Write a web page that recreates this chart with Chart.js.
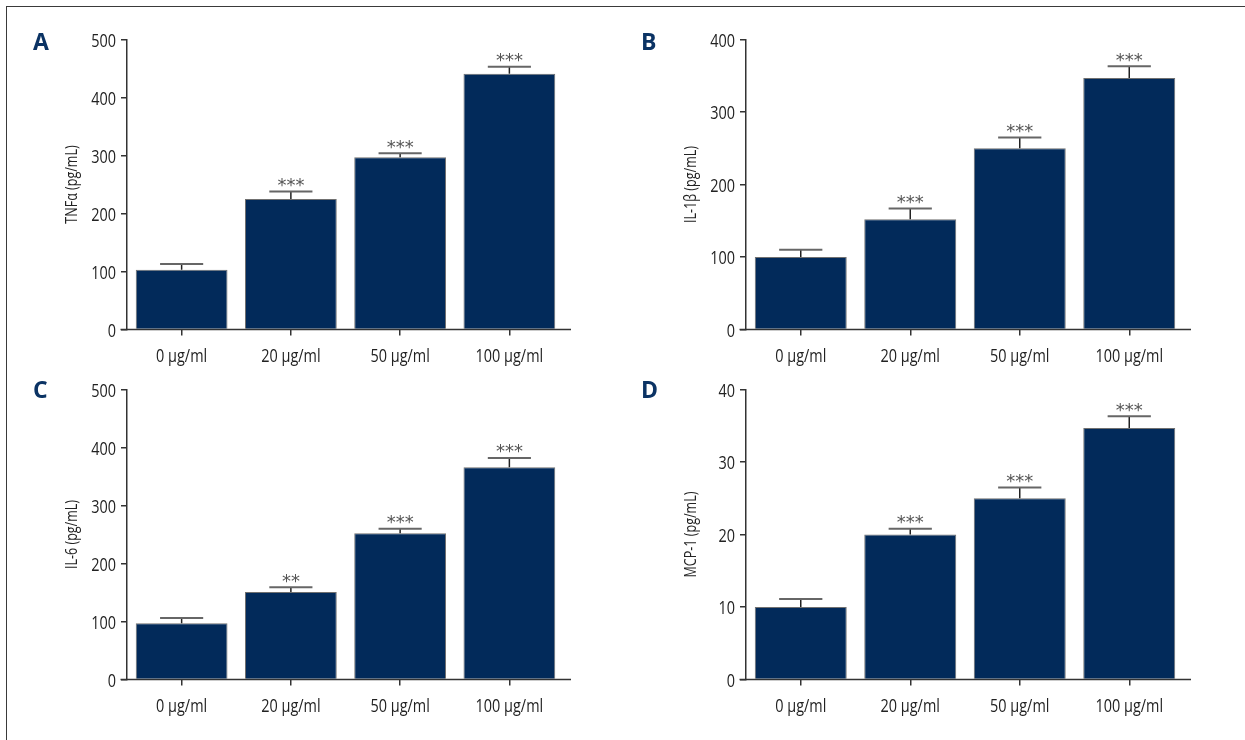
<!DOCTYPE html>
<html>
<head>
<meta charset="utf-8">
<script src="https://cdn.jsdelivr.net/npm/chart.js@4.4.0/dist/chart.umd.min.js"></script>
<style>
  html, body { margin: 0; padding: 0; background: #fff; }
  body { width: 1245px; height: 740px; position: relative; overflow: hidden; }
  .frame { position: absolute; left: 6px; top: 6px; width: 1400px; height: 900px;
           border-top: 1px solid #3a3a3a; border-left: 1px solid #3a3a3a; box-sizing: border-box; }
  .panel { position: absolute; width: 623px; height: 370px; }
  .tag { position: absolute; font: bold 23px "Open Sans", "Liberation Sans", sans-serif;
         color: #0b3364; line-height: 1; }
</style>
</head>
<body>
<div class="frame"></div>
<div class="panel" style="left:0;top:0"><canvas id="cA" width="623" height="370"></canvas></div>
<div class="panel" style="left:622px;top:0"><canvas id="cB" width="623" height="370"></canvas></div>
<div class="panel" style="left:0;top:350px"><canvas id="cC" width="623" height="370"></canvas></div>
<div class="panel" style="left:622px;top:350px"><canvas id="cD" width="623" height="370"></canvas></div>
<div class="tag" style="left:33px;top:30px">A</div>
<div class="tag" style="left:641px;top:30px">B</div>
<div class="tag" style="left:33px;top:378px">C</div>
<div class="tag" style="left:641px;top:378px">D</div>

<script>
// Dose groups shared by all four panels
const doses = ['0 µg/ml', '20 µg/ml', '50 µg/ml', '100 µg/ml'];

// A: TNFα
const tnfMean  = [103, 225, 297, 441];
const tnfErr   = [10, 13, 7, 12];
const tnfStars = ['', '***', '***', '***'];
const tnfTicks = [0, 100, 200, 300, 400, 500];

// B: IL-1β
const il1Mean  = [100, 152, 250, 347];
const il1Err   = [10, 15, 15, 16];
const il1Stars = ['', '***', '***', '***'];
const il1Ticks = [0, 100, 200, 300, 400];

// C: IL-6
const il6Mean  = [97, 151, 252, 366];
const il6Err   = [9, 8, 8, 16];
const il6Stars = ['', '**', '***', '***'];
const il6Ticks = [0, 100, 200, 300, 400, 500];

// D: MCP-1
const mcpMean  = [10, 20, 25, 34.7];
const mcpErr   = [1.1, 0.8, 1.5, 1.6];
const mcpStars = ['', '***', '***', '***'];
const mcpTicks = [0, 10, 20, 30, 40];

const FACE = '"Open Sans", "Noto Sans", "Liberation Sans", sans-serif';
const TEXT = '#222';
const AXIS = '#333';
const BAR = '#022a5a';
const SQUEEZE = 0.76;   // narrow-set lettering for axis text

function narrowText(ctx, text, x, y, align, rotate) {
  ctx.save();
  ctx.translate(x, y);
  if (rotate) ctx.rotate(rotate);
  ctx.scale(SQUEEZE, 1);
  ctx.textAlign = align;
  ctx.textBaseline = 'middle';
  ctx.fillText(text, 0, 0);
  ctx.restore();
}

// Upper error bar, cap and significance marks over each bar, the baseline that
// runs a little past both ends of the plot area, and the narrow axis lettering.
const panelDecor = {
  id: 'panelDecor',
  afterDatasetsDraw(chart, args, opts) {
    const { ctx, chartArea } = chart;
    const y = chart.scales.y;
    const x = chart.scales.x;
    const meta = chart.getDatasetMeta(0);
    ctx.save();
    meta.data.forEach((bar, i) => {
      const mean = opts.mean[i], err = opts.err[i];
      const top = y.getPixelForValue(mean);
      const cap = y.getPixelForValue(mean + err);
      const half = bar.width * 0.235;
      ctx.strokeStyle = '#222';
      ctx.lineWidth = 1.5;
      ctx.beginPath();
      ctx.moveTo(bar.x, top);
      ctx.lineTo(bar.x, cap);
      ctx.stroke();
      ctx.strokeStyle = '#666';
      ctx.lineWidth = 2;
      ctx.beginPath();
      ctx.moveTo(bar.x - half, cap);
      ctx.lineTo(bar.x + half, cap);
      ctx.stroke();
      if (opts.stars[i]) {
        ctx.fillStyle = '#555';
        ctx.font = '18px "DejaVu Sans", sans-serif';
        ctx.textAlign = 'center';
        ctx.textBaseline = 'alphabetic';
        ctx.fillText(opts.stars[i], bar.x, cap - 0.5);
      }
    });

    // x baseline
    ctx.strokeStyle = AXIS;
    ctx.lineWidth = 1.5;
    ctx.beginPath();
    ctx.moveTo(chartArea.left - 6.5, chartArea.bottom);
    ctx.lineTo(chartArea.right + 7, chartArea.bottom);
    ctx.stroke();

    // tick labels
    ctx.fillStyle = TEXT;
    ctx.font = '19px ' + FACE;
    y.ticks.forEach((t, i) => {
      narrowText(ctx, String(t.value), chartArea.left - 11, y.getPixelForTick(i) + 2, 'right');
    });
    chart.data.labels.forEach((lab, i) => {
      narrowText(ctx, lab, x.getPixelForTick(i), chartArea.bottom + 27.5, 'center');
    });

    // y title
    ctx.font = '16.5px ' + FACE;
    narrowText(ctx, opts.title, chartArea.left - 55, (chartArea.top + chartArea.bottom) / 2,
               'center', -Math.PI / 2);
    ctx.restore();
  }
};

function panel(id, title, mean, err, stars, ticks, yWidth, padRight) {
  const yMax = ticks[ticks.length - 1];
  return new Chart(document.getElementById(id), {
    type: 'bar',
    data: {
      labels: doses,
      datasets: [{
        data: mean,
        backgroundColor: BAR,
        borderColor: '#707070',
        borderWidth: 1,
        categoryPercentage: 1,
        barPercentage: 0.84
      }]
    },
    options: {
      responsive: false,
      animation: false,
      devicePixelRatio: 1,
      layout: { padding: { top: 39.5, left: 0, right: padRight, bottom: 0 } },
      plugins: {
        legend: { display: false },
        tooltip: { enabled: false },
        panelDecor: { mean: mean, err: err, stars: stars, title: title }
      },
      scales: {
        x: {
          offset: true,
          afterFit(s) { s.height = 40.5; },
          grid: { display: true, drawOnChartArea: false, drawTicks: true, tickLength: 6,
                  color: AXIS, lineWidth: 1.5, offset: false },
          border: { display: false },
          ticks: { display: false }
        },
        y: {
          min: 0,
          max: yMax,
          afterFit(s) { s.width = yWidth; },
          afterBuildTicks(s) { s.ticks = ticks.map(v => ({ value: v })); },
          grid: { display: true, drawOnChartArea: false, drawTicks: true, tickLength: 6,
                  color: AXIS, lineWidth: 1.5 },
          border: { display: true, color: AXIS, width: 1.5 },
          ticks: { display: false }
        }
      }
    },
    plugins: [panelDecor]
  });
}

panel('cA', 'TNFα (pg/mL)', tnfMean, tnfErr, tnfStars, tnfTicks, 127, 59);
panel('cB', 'IL-1β (pg/mL)', il1Mean, il1Err, il1Stars, il1Ticks, 124, 61);
panel('cC', 'IL-6 (pg/mL)', il6Mean, il6Err, il6Stars, il6Ticks, 127, 59);
panel('cD', 'MCP-1 (pg/mL)', mcpMean, mcpErr, mcpStars, mcpTicks, 124, 61);
</script>
</body>
</html>
